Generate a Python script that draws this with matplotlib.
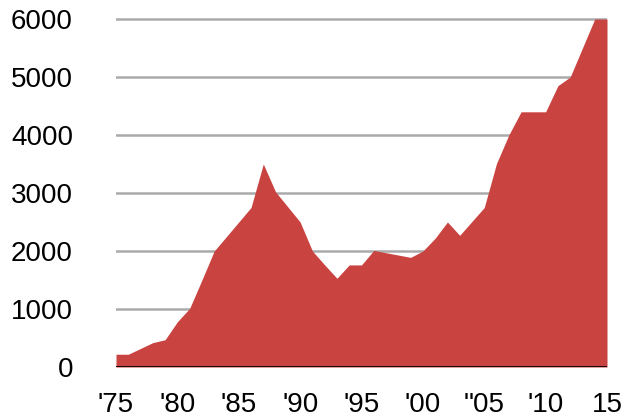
import matplotlib
matplotlib.use('Agg')
import matplotlib.pyplot as plt

# Dati
years = list(range(1975, 2016))
values = [220, 220, 320, 420, 470, 780, 1010, 1500, 2000, 2250,
          2500, 2750, 3500, 3020, 2760, 2500, 2000, 1760, 1530, 1760,
          1760, 2010, 1970, 1930, 1890, 2000, 2220, 2500, 2270, 2510,
          2750, 3510, 4000, 4400, 4400, 4400, 4850, 5000, 5500, 6000,
          6000]
xtick_pos = [1975, 1980, 1985, 1990, 1995, 2000, 2005, 2010, 2015]
xtick_labels = ["'75", "'80", "'85", "'90", "'95", "'00", '"05', "'10", "15"]
yticks = [0, 1000, 2000, 3000, 4000, 5000, 6000]

plt.rcParams['font.family'] = ['Liberation Sans', 'DejaVu Sans']

fig = plt.figure(figsize=(6.3, 4.17), dpi=100)
ax = fig.add_axes([116 / 630, 1 - 367 / 417, 491 / 630, 353.8 / 417])

ax.fill_between(years, values, 0, color='#c94340', linewidth=0, zorder=2)

ax.set_xlim(1975, 2015)
ax.set_ylim(0, 6100)
ax.set_yticks(yticks)
ax.set_yticklabels([str(v) for v in yticks], fontsize=20)
ax.set_xticks(xtick_pos)
ax.set_xticklabels(xtick_labels, fontsize=20)

# Griglia orizzontale grigia
for v in yticks[1:]:
    ax.axhline(v, color='#aaaaaa', linewidth=1.8, zorder=1)
ax.axhline(0, color='black', linewidth=2, zorder=3)

for s in ax.spines.values():
    s.set_visible(False)
ax.tick_params(axis='both', length=0)
ax.tick_params(axis='y', pad=31)
ax.tick_params(axis='x', pad=18)

plt.savefig('out.png', dpi=100)
plt.close()
